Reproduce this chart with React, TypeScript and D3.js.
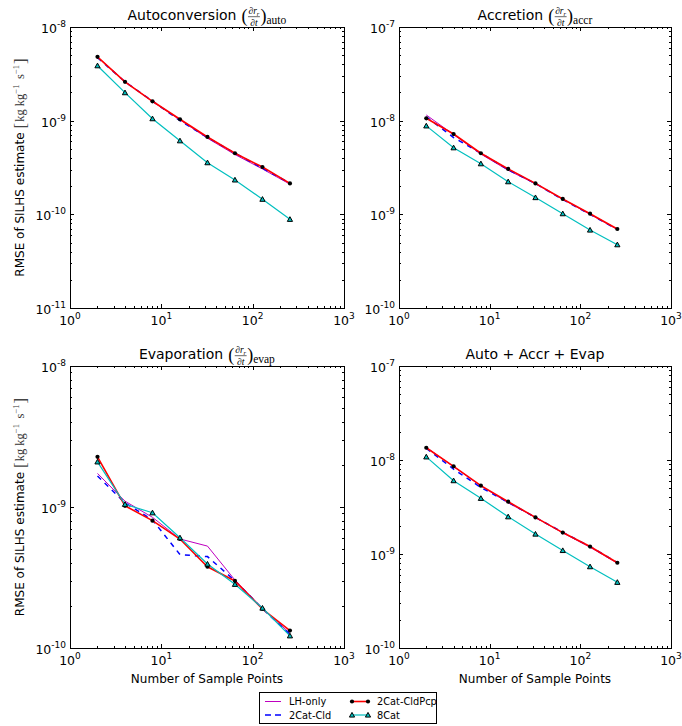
import React, { useEffect, useRef } from "react";
import * as d3 from "d3";

const sampleCounts = [2, 4, 8, 16, 32, 64, 128, 256];

const autoLH = [4.8e-9, 2.62e-9, 1.6e-9, 1.02e-9, 6.5e-10, 4.35e-10, 3.05e-10, 2.1e-10];
const autoCld = [4.7e-9, 2.6e-9, 1.62e-9, 1.0e-9, 6.6e-10, 4.5e-10, 3.1e-10, 2.15e-10];
const autoCldPcp = [4.8e-9, 2.6e-9, 1.61e-9, 1.035e-9, 6.7e-10, 4.49e-10, 3.2e-10, 2.14e-10];
const auto8Cat = [3.86e-9, 1.99e-9, 1.05e-9, 6.1e-10, 3.56e-10, 2.33e-10, 1.45e-10, 8.85e-11];

const accrLH = [1.15e-8, 7.1e-9, 4.4e-9, 2.95e-9, 2.12e-9, 1.45e-9, 1.0e-9, 6.9e-10];
const accrCld = [1.1e-8, 6.6e-9, 4.5e-9, 3.0e-9, 2.13e-9, 1.44e-9, 1.0e-9, 6.9e-10];
const accrCldPcp = [1.06e-8, 7.2e-9, 4.49e-9, 3.05e-9, 2.14e-9, 1.46e-9, 1.016e-9, 6.97e-10];
const accr8Cat = [8.8e-9, 5.14e-9, 3.47e-9, 2.23e-9, 1.51e-9, 1.016e-9, 6.8e-10, 4.74e-10];

const evapLH = [1.73e-9, 1.1e-9, 8.45e-10, 5.93e-10, 5.28e-10, 3.03e-10, 1.91e-10, 1.27e-10];
const evapCld = [1.66e-9, 1.07e-9, 8.1e-10, 4.6e-10, 4.45e-10, 3.0e-10, 1.9e-10, 1.25e-10];
const evapCldPcp = [2.27e-9, 1.02e-9, 8.0e-10, 5.93e-10, 3.77e-10, 2.99e-10, 1.89e-10, 1.33e-10];
const evap8Cat = [2.09e-9, 1.045e-9, 9.1e-10, 6.05e-10, 3.94e-10, 2.83e-10, 1.92e-10, 1.22e-10];

const totLH = [1.36e-8, 8.5e-9, 5.3e-9, 3.5e-9, 2.45e-9, 1.68e-9, 1.18e-9, 8.0e-10];
const totCld = [1.33e-8, 8.0e-9, 5.1e-9, 3.55e-9, 2.45e-9, 1.7e-9, 1.2e-9, 8.1e-10];
const totCldPcp = [1.35e-8, 8.57e-9, 5.33e-9, 3.6e-9, 2.45e-9, 1.69e-9, 1.2e-9, 8.07e-10];
const tot8Cat = [1.08e-8, 6.03e-9, 3.91e-9, 2.49e-9, 1.63e-9, 1.09e-9, 7.33e-10, 5.0e-10];

const seriesNames = ["LH-only", "2Cat-Cld", "2Cat-CldPcp", "8Cat"];
const panelTitles = ["Autoconversion", "Accretion", "Evaporation", "Auto + Accr + Evap"];
const panelSubscripts = ["auto", "accr", "evap", ""];
const xDomain = [1, 1000];
const yDomains = [
  [1e-11, 1e-8],
  [1e-10, 1e-7],
  [1e-10, 1e-8],
  [1e-10, 1e-7],
];
const yLabelText = "RMSE of SILHS estimate";
const xLabelText = "Number of Sample Points";

const SANS = "DejaVu Sans, sans-serif";
const SERIF = "Liberation Serif, DejaVu Serif, serif";

const styles = [
  { color: "#bf00bf", width: 1, dash: null as string | null, marker: null as string | null },
  { color: "#0000ff", width: 1.5, dash: "5,5", marker: null },
  { color: "#ff0000", width: 1.6, dash: null, marker: "circle" },
  { color: "#00bfbf", width: 1.2, dash: null, marker: "triangle" },
];

export default function App() {
  const ref = useRef<SVGSVGElement>(null);
  useEffect(() => {
    document.body.style.margin = "0";
    const svg = d3.select(ref.current);
    svg.selectAll("*").remove();

    const layout = [
      { x0: 70, y0: 27, w: 274, h: 281, showY: true, showX: false },
      { x0: 399, y0: 27, w: 272, h: 281, showY: false, showX: false },
      { x0: 70, y0: 366, w: 274, h: 282, showY: true, showX: true },
      { x0: 399, y0: 366, w: 272, h: 282, showY: false, showX: true },
    ];
    const allData = [
      [autoLH, autoCld, autoCldPcp, auto8Cat],
      [accrLH, accrCld, accrCldPcp, accr8Cat],
      [evapLH, evapCld, evapCldPcp, evap8Cat],
      [totLH, totCld, totCldPcp, tot8Cat],
    ];

    const decadeTicks = (lo: number, hi: number) => {
      const major: number[] = [];
      const minor: number[] = [];
      const a = Math.round(Math.log10(lo));
      const b = Math.round(Math.log10(hi));
      for (let k = a; k <= b; k++) {
        major.push(Math.pow(10, k));
        if (k < b) for (let m = 2; m <= 9; m++) minor.push(m * Math.pow(10, k));
      }
      return { major, minor };
    };

    const drawMarker = (g: any, kind: string, cx: number, cy: number) => {
      if (kind === "circle") {
        g.append("circle").attr("cx", cx).attr("cy", cy).attr("r", 2.1).attr("fill", "#000");
      } else if (kind === "triangle") {
        const s = 2.6;
        g.append("path")
          .attr("d", `M${cx},${cy - s}L${cx + s},${cy + s * 0.8}L${cx - s},${cy + s * 0.8}Z`)
          .attr("fill", "#00bfbf")
          .attr("stroke", "#000")
          .attr("stroke-width", 1);
      }
    };

    layout.forEach((L, pi) => {
      const g = svg.append("g");
      const x = d3.scaleLog().domain(xDomain).range([L.x0, L.x0 + L.w]);
      const y = d3.scaleLog().domain(yDomains[pi]).range([L.y0 + L.h, L.y0]);

      const line = d3
        .line<[number, number]>()
        .x((d) => x(d[0]))
        .y((d) => y(d[1]));
      allData[pi].forEach((vals, si) => {
        const st = styles[si];
        const pts: [number, number][] = sampleCounts.map((c, i) => [c, vals[i]]);
        const p = g
          .append("path")
          .attr("d", line(pts) as string)
          .attr("fill", "none")
          .attr("stroke", st.color)
          .attr("stroke-width", st.width);
        if (st.dash) p.attr("stroke-dasharray", st.dash);
        if (st.marker) pts.forEach((d) => drawMarker(g, st.marker as string, x(d[0]), y(d[1])));
      });

      g.append("rect")
        .attr("x", L.x0)
        .attr("y", L.y0)
        .attr("width", L.w)
        .attr("height", L.h)
        .attr("fill", "none")
        .attr("stroke", "#000")
        .attr("stroke-width", 1)
        .attr("shape-rendering", "crispEdges");

      const tk = g.append("g").attr("stroke", "#000").attr("stroke-width", 1).attr("shape-rendering", "crispEdges");
      const xt = decadeTicks(xDomain[0], xDomain[1]);
      const yt = decadeTicks(yDomains[pi][0], yDomains[pi][1]);
      const xTickLine = (v: number, len: number) => {
        const px = Math.round(x(v)) + 0.5;
        tk.append("line").attr("x1", px).attr("x2", px).attr("y1", L.y0 + L.h).attr("y2", L.y0 + L.h - len);
        tk.append("line").attr("x1", px).attr("x2", px).attr("y1", L.y0).attr("y2", L.y0 + len);
      };
      const yTickLine = (v: number, len: number) => {
        const py = Math.round(y(v)) + 0.5;
        tk.append("line").attr("x1", L.x0).attr("x2", L.x0 + len).attr("y1", py).attr("y2", py);
        tk.append("line").attr("x1", L.x0 + L.w).attr("x2", L.x0 + L.w - len).attr("y1", py).attr("y2", py);
      };
      xt.major.forEach((v) => xTickLine(v, 4));
      xt.minor.forEach((v) => xTickLine(v, 2));
      yt.major.forEach((v) => yTickLine(v, 4));
      yt.minor.forEach((v) => yTickLine(v, 2));

      xt.major.forEach((v) => {
        const t = g
          .append("text")
          .attr("x", x(v))
          .attr("y", L.y0 + L.h + 17)
          .attr("text-anchor", "middle")
          .attr("font-family", SANS)
          .attr("font-size", 12.5)
          .attr("fill", "#000");
        t.append("tspan").text("10");
        t.append("tspan").attr("dy", -6).attr("font-size", 9).text(String(Math.round(Math.log10(v))));
      });
      yt.major.forEach((v) => {
        const t = g
          .append("text")
          .attr("x", L.x0 - 4)
          .attr("y", y(v) + 6)
          .attr("text-anchor", "end")
          .attr("font-family", SANS)
          .attr("font-size", 12.5)
          .attr("fill", "#000");
        t.append("tspan").text("10");
        t.append("tspan").attr("dy", -6).attr("font-size", 9).text(String(Math.round(Math.log10(v))));
      });

      const tg = g.append("g");
      const tt = tg
        .append("text")
        .attr("x", 0)
        .attr("y", 0)
        .attr("font-family", SANS)
        .attr("font-size", 14)
        .attr("fill", "#000")
        .text(panelTitles[pi]);
      const sub = panelSubscripts[pi];
      if (sub) {
        let cx = (tt.node() as SVGTextElement).getComputedTextLength() + 5;
        const lp = tg.append("text").attr("x", cx).attr("y", 1.5).attr("font-family", SERIF).attr("font-size", 18).text("(");
        cx += (lp.node() as SVGTextElement).getComputedTextLength() + 0.5;
        const num = tg
          .append("text")
          .attr("x", cx + 0.5)
          .attr("y", -6)
          .attr("font-family", SERIF)
          .attr("font-style", "italic")
          .attr("font-size", 9.5);
        num.append("tspan").text("∂r");
        num.append("tspan").attr("dy", 2).attr("font-size", 6.5).text("r");
        const numW = (num.node() as SVGTextElement).getComputedTextLength() + 1;
        tg.append("line")
          .attr("x1", cx)
          .attr("x2", cx + numW)
          .attr("y1", -3.3)
          .attr("y2", -3.3)
          .attr("stroke", "#000")
          .attr("stroke-width", 0.6);
        tg.append("text")
          .attr("x", cx + numW / 2)
          .attr("y", 5.5)
          .attr("text-anchor", "middle")
          .attr("font-family", SERIF)
          .attr("font-style", "italic")
          .attr("font-size", 9.5)
          .text("∂t");
        cx += numW + 0.5;
        const rp = tg.append("text").attr("x", cx).attr("y", 1.5).attr("font-family", SERIF).attr("font-size", 18).text(")");
        cx += (rp.node() as SVGTextElement).getComputedTextLength();
        tg.append("text").attr("x", cx).attr("y", 3.5).attr("font-family", SERIF).attr("font-size", 11.5).text(sub);
      }
      const bb = (tg.node() as SVGGElement).getBBox();
      tg.attr("transform", `translate(${L.x0 + L.w / 2 - (bb.x + bb.width / 2)},${L.y0 - 7})`);

      if (L.showY) {
        const outer = g.append("g").attr("transform", `translate(24,${L.y0 + L.h / 2}) rotate(-90)`);
        const inner = outer.append("g");
        const yl = inner.append("text").attr("x", 0).attr("y", 0).attr("font-family", SANS).attr("font-size", 12).text(yLabelText);
        let cx = (yl.node() as SVGTextElement).getComputedTextLength() + 4;
        const lb = inner.append("text").attr("x", cx).attr("y", 1.5).attr("font-family", SERIF).attr("font-size", 17).attr("fill", "#444").text("[");
        cx += (lb.node() as SVGTextElement).getComputedTextLength() + 1;
        const u = inner.append("text").attr("x", cx).attr("y", 0).attr("font-family", SERIF).attr("font-size", 12.5).attr("fill", "#333");
        u.append("tspan").text("kg kg");
        u.append("tspan").attr("dy", -5).attr("font-size", 8.5).text("\u22121");
        u.append("tspan").attr("dy", 5).text("\u2009 s");
        u.append("tspan").attr("dy", -5).attr("font-size", 8.5).text("\u22121");
        cx += (u.node() as SVGTextElement).getComputedTextLength() + 1;
        inner.append("text").attr("x", cx).attr("y", 1.5).attr("font-family", SERIF).attr("font-size", 17).attr("fill", "#444").text("]");
        const ib = (inner.node() as SVGGElement).getBBox();
        inner.attr("transform", `translate(${-(ib.x + ib.width / 2)},0)`);
      }

      if (L.showX) {
        g.append("text")
          .attr("x", L.x0 + L.w / 2)
          .attr("y", L.y0 + L.h + 35)
          .attr("text-anchor", "middle")
          .attr("font-family", SANS)
          .attr("font-size", 12)
          .text(xLabelText);
      }
    });

    const lg = svg.append("g");
    lg.append("rect")
      .attr("x", 259.5)
      .attr("y", 692.5)
      .attr("width", 177)
      .attr("height", 31)
      .attr("fill", "#fff")
      .attr("stroke", "#000")
      .attr("stroke-width", 1);
    const entries = [
      { si: 0, lx: 265, tx: 289, yy: 701.5 },
      { si: 1, lx: 265, tx: 289, yy: 715 },
      { si: 2, lx: 352, tx: 377, yy: 701.5 },
      { si: 3, lx: 352, tx: 377, yy: 715 },
    ];
    entries.forEach((e) => {
      const st = styles[e.si];
      const ln = lg
        .append("line")
        .attr("x1", e.lx)
        .attr("x2", e.lx + 16)
        .attr("y1", e.yy)
        .attr("y2", e.yy)
        .attr("stroke", st.color)
        .attr("stroke-width", st.width);
      if (st.dash) ln.attr("stroke-dasharray", "6,4");
      if (st.marker) {
        drawMarker(lg, st.marker, e.lx, e.yy);
        drawMarker(lg, st.marker, e.lx + 16, e.yy);
      }
      lg.append("text")
        .attr("x", e.tx)
        .attr("y", e.yy + 3.5)
        .attr("font-family", SANS)
        .attr("font-size", 9.8)
        .text(seriesNames[e.si]);
    });
  }, []);
  return <svg ref={ref} width={682} height={726} style={{ display: "block", background: "#fff" }} />;
}
